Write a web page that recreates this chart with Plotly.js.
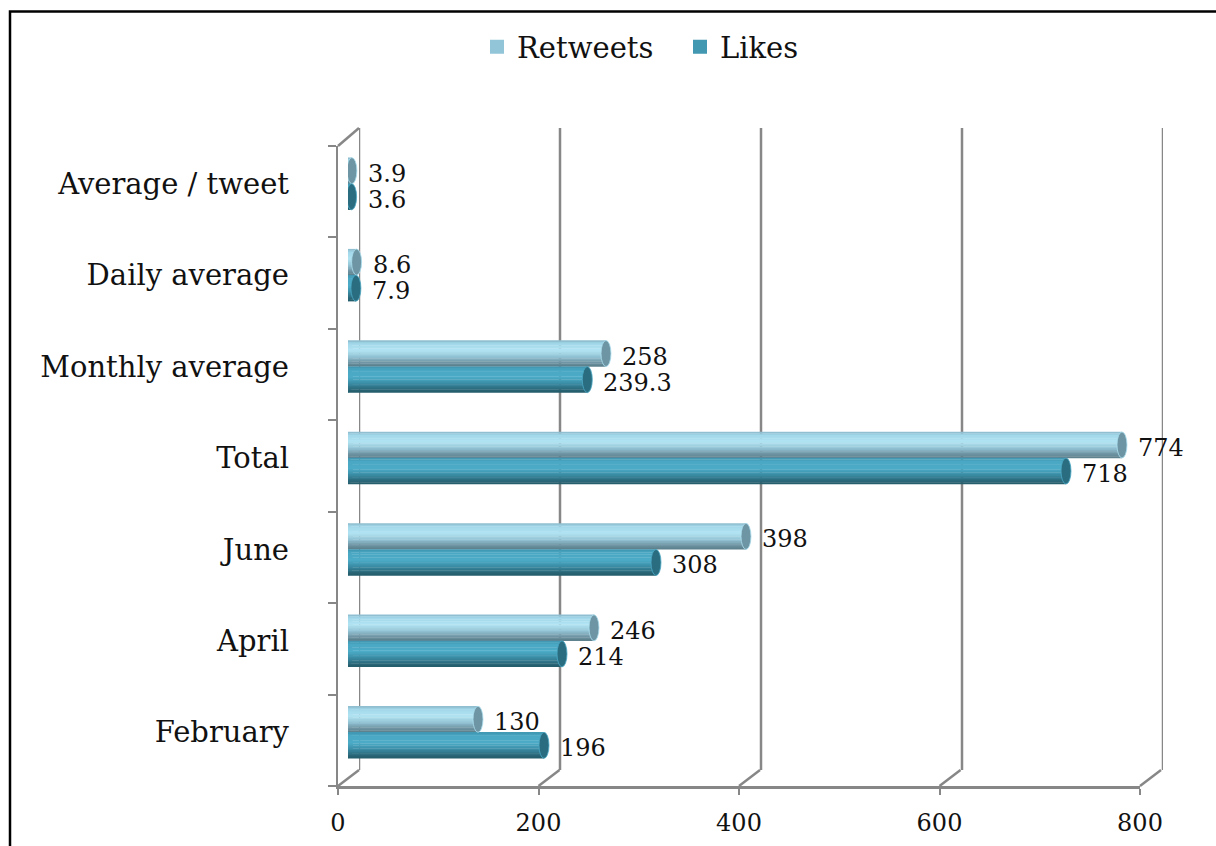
<!DOCTYPE html>
<html>
<head>
<meta charset="utf-8">
<script src="https://cdn.plot.ly/plotly-3.0.1.min.js"></script>
<style>
  html, body { margin: 0; padding: 0; background: #ffffff; }
  #chart { width: 1216px; height: 846px; }
</style>
</head>
<body>
<div id="chart"></div>
<script>
// Engagement figures, listed bottom-to-top as they appear on the category axis
const categories = ["February", "April", "June", "Total", "Monthly average", "Daily average", "Average / tweet"];
const retweets   = [130, 246, 398, 774, 258, 8.6, 3.9];
const likes      = [196, 214, 308, 718, 239.3, 7.9, 3.6];
const xTicks     = [0, 200, 400, 600, 800];

// ---- page geometry helpers (pixel -> paper fraction) ----
const W = 1216, H = 846;
const px = v => v / W;
const py = v => 1 - v / H;

const FONT = "DejaVu Serif";
const AXIS_GRAY = "#878787";
const LINE_W = 2.5;
const X_RANGE = [0, 800];
const xFrac = v => (v - X_RANGE[0]) / (X_RANGE[1] - X_RANGE[0]);

// Shading stops for the cylinder look (top edge -> bottom edge)
const series = [
  { name: "Retweets", values: retweets, legend: "#92c5d8", cap: "#6d95a4",
    lo: 0.0, hi: 0.285,
    stops: [[0, "#8ab7c8"], [0.12, "#a0d7ea"], [0.38, "#b2e4f3"], [0.62, "#94c6d7"], [0.84, "#7096a5"], [1, "#5b7d8a"]] },
  { name: "Likes", values: likes, legend: "#4198b0", cap: "#2a6d80",
    lo: -0.285, hi: 0.0,
    stops: [[0, "#3f95ae"], [0.15, "#4aa8c4"], [0.42, "#4cabc7"], [0.66, "#3a8ca4"], [0.86, "#2c6b7d"], [1, "#235a69"]] }
];

function hexToRgb(h) {
  return [parseInt(h.slice(1, 3), 16), parseInt(h.slice(3, 5), 16), parseInt(h.slice(5, 7), 16)];
}
function shade(stops, t) {
  for (let i = 1; i < stops.length; i++) {
    if (t <= stops[i][0]) {
      const [t0, c0] = stops[i - 1], [t1, c1] = stops[i];
      const f = (t - t0) / (t1 - t0);
      const a = hexToRgb(c0), b = hexToRgb(c1);
      const c = a.map((v, k) => Math.round(v + (b[k] - v) * f));
      return `rgb(${c[0]},${c[1]},${c[2]})`;
    }
  }
  return stops[stops.length - 1][1];
}

const idx = categories.map((_, i) => i);
const traces = [];
const shapes = [];
const annotations = [];
const STRIPS = 16;

series.forEach(s => {
  const h = (s.hi - s.lo) / STRIPS;
  // horizontal strips stacked across the bar thickness give the rounded shading
  for (let j = 0; j < STRIPS; j++) {
    const t = (j + 0.5) / STRIPS;
    traces.push({
      type: "bar", orientation: "h",
      x: s.values, y: idx, base: 0,
      offset: s.hi - (j + 1) * h - 0.002, width: h + 0.004,
      marker: { color: shade(s.stops, t), line: { width: 0 } },
      showlegend: false, hoverinfo: "skip", xaxis: "x", yaxis: "y"
    });
  }
  s.values.forEach((v, i) => {
    // rounded start of the cylinder
    shapes.push({
      type: "circle", layer: "between", xref: "x", yref: "y",
      xsizemode: "pixel", xanchor: 0, x0: -5, x1: 5,
      y0: i + s.lo, y1: i + s.hi,
      fillcolor: shade(s.stops, 0.45), line: { width: 0 }
    });
    // end face of the cylinder
    shapes.push({
      type: "circle", layer: "above", xref: "x", yref: "y",
      xsizemode: "pixel", xanchor: v, x0: -5, x1: 5,
      y0: i + s.lo, y1: i + s.hi,
      fillcolor: s.cap, line: { color: shade(s.stops, 0.3), width: 0.8 }
    });
    annotations.push({
      x: v, y: i + (s.lo + s.hi) / 2, xref: "x", yref: "y",
      text: String(v), showarrow: false, xanchor: "left", yanchor: "middle",
      xshift: 14, yshift: -3,
      font: { family: FONT, size: 24, color: "#111111" }
    });
  });
  // legend entry
  traces.push({
    type: "scatter", mode: "markers", x: [null], y: [null], name: s.name,
    marker: { symbol: "square", size: 14, color: s.legend },
    xaxis: "x", yaxis: "y", hoverinfo: "skip"
  });
});

// empty traces so the back-wall and front-axis subplots exist
traces.push({ type: "scatter", x: [], y: [], xaxis: "x2", yaxis: "y2", showlegend: false, hoverinfo: "skip" });
traces.push({ type: "scatter", x: [], y: [], xaxis: "x3", yaxis: "y3", showlegend: false, hoverinfo: "skip" });

xTicks.forEach(v => {
  // back wall gridlines
  shapes.push({
    type: "line", layer: "below", xref: "x2", yref: "y2 domain",
    x0: v, x1: v, y0: 0, y1: 1,
    line: { color: AXIS_GRAY, width: LINE_W }
  });
  // floor edges joining the front axis to the back wall
  shapes.push({
    type: "line", layer: "below", xref: "x3 domain", yref: "y3 domain",
    xsizemode: "pixel", xanchor: xFrac(v), x0: 0, x1: 21,
    ysizemode: "pixel", yanchor: 0, y0: 0, y1: 16,
    line: { color: AXIS_GRAY, width: LINE_W }
  });
});
// top edge of the side wall
shapes.push({
  type: "line", layer: "below", xref: "x3 domain", yref: "y3 domain",
  xsizemode: "pixel", xanchor: 0, x0: 0, x1: 21,
  ysizemode: "pixel", yanchor: 1, y0: 0, y1: 18,
  line: { color: AXIS_GRAY, width: LINE_W }
});
// outer frame
shapes.push({
  type: "rect", xref: "paper", yref: "paper",
  x0: px(10), x1: 1.02, y0: -0.02, y1: py(11.5),
  line: { color: "#000000", width: 2.5 }, fillcolor: "rgba(0,0,0,0)", layer: "above"
});

const boundaries = [];
for (let i = 0; i <= categories.length; i++) boundaries.push(i - 0.5);

const layout = {
  width: W, height: H,
  margin: { l: 0, r: 0, t: 0, b: 0, pad: 0 },
  paper_bgcolor: "#ffffff", plot_bgcolor: "rgba(0,0,0,0)",
  barmode: "overlay",
  showlegend: true,
  legend: {
    orientation: "h", x: px(680), xanchor: "center", y: py(47), yanchor: "middle",
    entrywidth: 158, entrywidthmode: "pixels",
    font: { family: FONT, size: 29, color: "#111111" },
    bgcolor: "rgba(0,0,0,0)", itemclick: false, itemdoubleclick: false
  },
  // bar plane
  xaxis: {
    domain: [px(348), px(1148)], range: X_RANGE, anchor: "y",
    showgrid: false, zeroline: false, showticklabels: false, ticks: "", showline: false
  },
  yaxis: {
    domain: [py(778), py(138)], range: [-0.5, 6.5], anchor: "x",
    tickvals: idx, ticktext: categories, ticks: "", ticklabelstandoff: 58,
    showgrid: false, zeroline: false, showline: false,
    tickfont: { family: FONT, size: 29, color: "#111111" }
  },
  // back wall
  xaxis2: {
    domain: [px(359), px(1163)], range: X_RANGE, anchor: "y2",
    showgrid: false, zeroline: false, showticklabels: false, ticks: "", showline: false
  },
  yaxis2: {
    domain: [py(770), py(128)], range: [0, 1], anchor: "x2",
    showgrid: false, zeroline: false, showticklabels: false, ticks: "", showline: false
  },
  // front axes
  xaxis3: {
    domain: [px(338), px(1140)], range: X_RANGE, anchor: "y3",
    tickvals: xTicks, ticks: "outside", ticklen: 6, tickwidth: 2, tickcolor: AXIS_GRAY,
    showline: true, linecolor: AXIS_GRAY, linewidth: LINE_W,
    showgrid: false, zeroline: false, ticklabelstandoff: 8,
    tickfont: { family: FONT, size: 24, color: "#111111" }
  },
  yaxis3: {
    domain: [py(786), py(146)], range: [-0.5, 6.5], anchor: "x3",
    tickvals: boundaries, ticks: "outside", ticklen: 8, tickwidth: 2, tickcolor: AXIS_GRAY,
    showline: true, linecolor: AXIS_GRAY, linewidth: LINE_W,
    showgrid: false, zeroline: false, showticklabels: false
  },
  shapes: shapes,
  annotations: annotations
};

Plotly.newPlot("chart", traces, layout, { staticPlot: true, displayModeBar: false });
</script>
</body>
</html>
